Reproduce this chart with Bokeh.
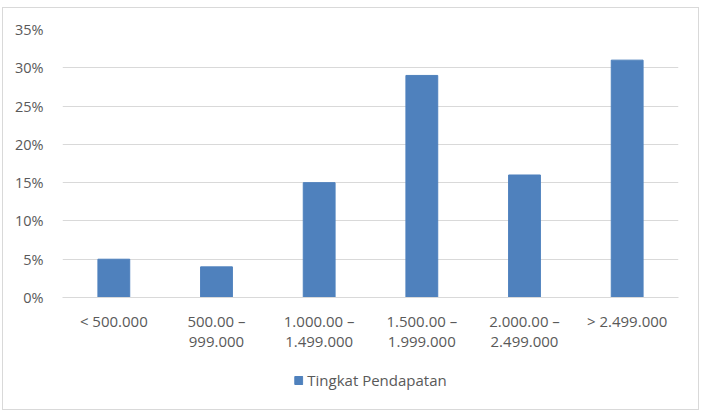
from bokeh.plotting import figure
from bokeh.layouts import column
from bokeh.models import FactorRange, NumeralTickFormatter, FixedTicker, Legend, LegendItem, Range1d
from bokeh.embed import file_html
from bokeh.resources import INLINE

categories = ["< 500.000", "500.00 –\n999.000", "1.000.00 –\n1.499.000",
              "1.500.00 –\n1.999.000", "2.000.00 –\n2.499.000", "> 2.499.000"]
values = [0.05, 0.04, 0.15, 0.29, 0.16, 0.31]
y_ticks = [0, 0.05, 0.10, 0.15, 0.20, 0.25, 0.30, 0.35]
series_name = "Tingkat Pendapatan"

FONT = "Open Sans"
TXT = "#595959"
BLUE = "#4F81BD"

p = figure(x_range=FactorRange(*categories), y_range=(0, 0.35),
           width=695, height=352, output_backend="svg", toolbar_location=None,
           min_border_left=59, min_border_right=20, min_border_top=21, min_border_bottom=63)
p.background_fill_color = "white"
p.border_fill_color = "white"
p.outline_line_color = None

p.vbar(x=categories, top=values, width=0.31, color=BLUE)

p.yaxis.ticker = FixedTicker(ticks=y_ticks)
p.yaxis.formatter = NumeralTickFormatter(format="0%")
p.yaxis.axis_line_color = None
p.yaxis.major_tick_line_color = None
p.yaxis.minor_tick_line_color = None
p.yaxis.major_label_text_font = FONT
p.yaxis.major_label_text_font_size = "14.5px"
p.yaxis.major_label_text_color = TXT
p.yaxis.major_label_standoff = 13

p.xaxis.axis_line_color = "#d9d9d9"
p.xaxis.major_tick_line_color = None
p.xaxis.minor_tick_line_color = None
p.xaxis.major_label_text_font = FONT
p.xaxis.major_label_text_font_size = "15px"
p.xaxis.major_label_text_color = TXT
p.xaxis.major_label_text_line_height = 1.0
p.xaxis.major_label_standoff = 7

p.xgrid.grid_line_color = None
p.ygrid.grid_line_color = "#d9d9d9"

# legend strip below the chart (same series, drawn outside its visible range)
lf = figure(width=695, height=49, output_backend="svg", toolbar_location=None,
            x_range=FactorRange(*categories), y_range=Range1d(1, 2),
            min_border=0)
lf.outline_line_color = None
lf.axis.visible = False
lf.grid.visible = False
lr = lf.vbar(x=categories, top=values, width=0.31, color=BLUE)
legend = Legend(items=[LegendItem(label=series_name, renderers=[lr])],
                orientation="horizontal", location="top_center",
                label_text_font=FONT, label_text_font_size="15px", label_text_color=TXT,
                glyph_width=10, glyph_height=10, label_standoff=4, label_height=16,
                border_line_color=None, background_fill_alpha=0, margin=10, padding=4)
lf.add_layout(legend)

layout = column(p, lf, spacing=0, margin=(7, 0, 0, 2),
                styles={"border": "1px solid #d9d9d9", "background-color": "white"})

open("out.html", "w").write(file_html(layout, INLINE))
